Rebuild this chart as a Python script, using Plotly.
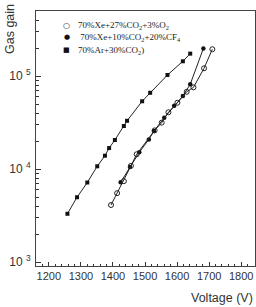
import plotly.graph_objects as go

# 70%Xe+27%CO2+3%O2 (open circles)
v_open = [1394, 1413, 1434, 1456, 1474, 1530, 1552, 1573, 1601, 1630, 1651, 1684, 1710]
g_open = [4100, 5500, 7400, 10800, 14400, 26000, 31500, 40700, 51600, 67600, 75500, 121000, 194000]

# 70%Xe+10%CO2+20%CF4 (filled circles)
v_fill = [1424, 1453, 1482, 1512, 1528, 1560, 1591, 1618, 1641, 1682]
g_fill = [7200, 10500, 15100, 20800, 25700, 35500, 47900, 61000, 81500, 198000]

# 70%Ar+30%CO2 (filled squares)
v_sq = [1258, 1288, 1320, 1351, 1375, 1388, 1406, 1434, 1444, 1491, 1516, 1570, 1618, 1641]
g_sq = [3300, 4970, 7160, 10700, 13900, 16800, 20500, 29000, 33000, 53500, 66000, 102600, 144000, 174000]

y_tickvals = [1e3, 1e4, 1e5]
y_ticktext = ["10 <sup>3</sup>", "10 <sup>4</sup>", "10 <sup>5</sup>"]

legend_labels = [
    "70%Xe+27%CO<sub>2</sub>+3%O<sub>2</sub>",
    " 70%Xe+10%CO<sub>2</sub>+20%CF<sub>4</sub>",
    "70%Ar+30%CO<sub>2</sub>)",
]
legend_symbols = ["○", "●", "■"]

fig = go.Figure()
line = dict(color="#222", width=1)
fig.add_trace(go.Scatter(x=v_sq, y=g_sq, mode="lines+markers", line=line,
                         marker=dict(symbol="square", size=4, color="#111"), showlegend=False))
fig.add_trace(go.Scatter(x=v_fill, y=g_fill, mode="lines+markers", line=line,
                         marker=dict(symbol="circle", size=4.5, color="#111"), showlegend=False))
fig.add_trace(go.Scatter(x=v_open, y=g_open, mode="lines+markers", line=line,
                         marker=dict(symbol="circle-open", size=5, color="#222", line=dict(width=1)),
                         showlegend=False))

tickfont = dict(family="Liberation Sans, Arial", size=11, color="#333")
fig.update_xaxes(range=[1160, 1843], dtick=100, tick0=1200, ticks="inside", ticklen=4,
                 tickcolor="#333", showline=True, linecolor="#444", linewidth=1, mirror=True,
                 showgrid=False, zeroline=False, tickfont=tickfont,
                 minor=dict(ticks="inside", ticklen=2, dtick=20, tickcolor="#333"))
fig.update_yaxes(type="log", range=[2.957, 5.699], tickvals=y_tickvals, ticktext=y_ticktext,
                 ticks="inside", ticklen=5,
                 tickcolor="#333", showline=True, linecolor="#444", linewidth=1, mirror=True,
                 showgrid=False, zeroline=False, tickfont=dict(family="Liberation Sans, Arial", size=12, color="#333"),
                 ticklabelstandoff=2,
                 minor=dict(ticks="inside", ticklen=3, dtick="D1", tickcolor="#333"))

ann = []
ys = [25, 37.5, 50]
for i, (s, t) in enumerate(zip(legend_symbols, legend_labels)):
    yp = 1 - (ys[i] - 11) / 255
    ann.append(dict(xref="paper", yref="paper", x=(66.5 - 36) / 219, y=yp, text=s,
                    showarrow=False, xanchor="center", yanchor="middle",
                    font=dict(family="DejaVu Sans", size=7 if s != "○" else 8, color="#111")))
    ann.append(dict(xref="paper", yref="paper", x=(76 - 36) / 219, y=yp, text=t,
                    showarrow=False, xanchor="left", yanchor="middle",
                    font=dict(family="Liberation Serif, Times New Roman", size=9, color="#222")))
ann.append(dict(xref="paper", yref="paper", x=-(36 - 10) / 219, y=1 - (29 - 11) / 255,
                text="Gas gain", textangle=-90, showarrow=False, xanchor="center", yanchor="middle",
                font=dict(family="Liberation Sans, Arial", size=12.5, color="#333")))
ann.append(dict(xref="paper", yref="paper", x=1, y=-(298 - 266) / 255, text="Voltage (V)",
                showarrow=False, xanchor="right", yanchor="middle",
                font=dict(family="Liberation Sans, Arial", size=12.5, color="#333")))

fig.update_layout(width=256, height=307, margin=dict(l=36, r=1, t=11, b=41),
                  plot_bgcolor="white", paper_bgcolor="white", annotations=ann,
                  showlegend=False)
fig.write_html("out.html")
